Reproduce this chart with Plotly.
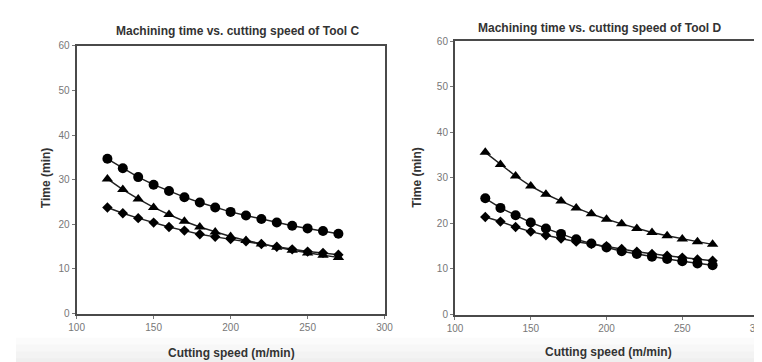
import plotly.graph_objects as go

speed = [120, 130, 140, 150, 160, 170, 180, 190, 200, 210, 220, 230, 240, 250, 260, 270]

c_circle = [34.7, 32.6, 30.6, 28.9, 27.5, 26.1, 24.9, 23.8, 22.8, 22.0, 21.2, 20.4, 19.7, 19.1, 18.5, 17.9]
c_triangle = [30.2, 27.8, 25.7, 23.8, 22.2, 20.7, 19.4, 18.3, 17.3, 16.4, 15.6, 14.9, 14.2, 13.6, 13.1, 12.6]
c_diamond = [23.8, 22.5, 21.4, 20.4, 19.4, 18.6, 17.8, 17.2, 16.7, 16.2, 15.6, 15.0, 14.4, 13.9, 13.6, 13.2]

d_triangle = [35.6, 32.9, 30.4, 28.2, 26.4, 24.9, 23.4, 22.1, 20.9, 19.9, 18.9, 18.0, 17.3, 16.6, 16.0, 15.4]
d_circle = [25.5, 23.4, 21.8, 20.2, 18.9, 17.7, 16.5, 15.6, 14.7, 13.9, 13.3, 12.7, 12.2, 11.7, 11.2, 10.8]
d_diamond = [21.4, 20.4, 19.2, 18.2, 17.4, 16.7, 16.0, 15.5, 15.0, 14.4, 13.8, 13.3, 12.9, 12.5, 12.1, 11.8]

x_ticks = [100, 150, 200, 250, 300]
y_ticks = [0, 10, 20, 30, 40, 50, 60]

titles = ["Machining time vs. cutting speed of Tool C",
          "Machining time vs. cutting speed of Tool D"]
x_title = "Cutting speed (m/min)"
y_title = "Time (min)"

W, H = 762, 362
FONT = "Liberation Sans, Arial, sans-serif"

fig = go.Figure()

def add(series, symbol, size, xa, ya):
    fig.add_trace(go.Scatter(
        x=speed, y=series, mode="lines+markers",
        line=dict(color="#222222", width=1.5),
        marker=dict(symbol=symbol, size=size, color="black"),
        xaxis=xa, yaxis=ya, showlegend=False))

add(c_circle, "circle", 10, "x", "y")
add(c_triangle, "triangle-up", 10, "x", "y")
add(c_diamond, "diamond", 8, "x", "y")
add(d_triangle, "triangle-up", 10, "x2", "y2")
add(d_circle, "circle", 10, "x2", "y2")
add(d_diamond, "diamond", 8, "x2", "y2")

ax_common = dict(showgrid=False, zeroline=False, showline=True, mirror=True,
                 linecolor="#4a4a4a", linewidth=2, ticks="outside", ticklen=3,
                 tickcolor="#777777", tickfont=dict(family=FONT, size=10, color="#777777"))

left = (62, 377, 34, 310)
right = (449, 759, 29, 311)

def dom(b):
    x0, x1, y0, y1 = b
    return [x0 / W, x1 / W], [1 - y1 / H, 1 - y0 / H]

lx, ly = dom(left)
rx, ry = dom(right)

# faint grey band at the bottom of the picture (screen capture shading)
shapes = []
greys = ["#fbfbfb", "#f7f7f7", "#f3f3f3", "#efefef"]
for i, g in enumerate(greys):
    y0 = 335 + i * 7
    shapes.append(dict(type="rect", xref="paper", yref="paper", layer="below",
                       x0=0, x1=1, y0=0, y1=1 - y0 / H, fillcolor=g, line=dict(width=0)))

fig.update_layout(
    width=W, height=H, margin=dict(l=0, r=0, t=0, b=0),
    paper_bgcolor="white", plot_bgcolor="white", shapes=shapes,
    xaxis=dict(domain=lx, range=[100, 300], tickvals=x_ticks, anchor="y", **ax_common),
    yaxis=dict(domain=ly, range=[0, 60], tickvals=y_ticks, anchor="x", **ax_common),
    xaxis2=dict(domain=rx, range=[100, 300], tickvals=x_ticks, anchor="y2", **ax_common),
    yaxis2=dict(domain=ry, range=[0, 60], tickvals=y_ticks, anchor="x2", **ax_common),
)

bold = dict(family=FONT, size=12, color="#333333")
ann = [
    (227, 19, titles[0], 0),
    (597, 15, titles[1], 0),
    (220, 351, x_title, 0),
    (606, 350, x_title, 0),
    (31, 170, y_title, -90),
    (410, 170, y_title, -90),
]
for x, y, t, ang in ann:
    fig.add_annotation(x=x / W, y=1 - y / H, xref="paper", yref="paper",
                       text="<b>" + t + "</b>", showarrow=False, textangle=ang,
                       font=bold, xanchor="center", yanchor="middle")

fig.write_html("out.html")
